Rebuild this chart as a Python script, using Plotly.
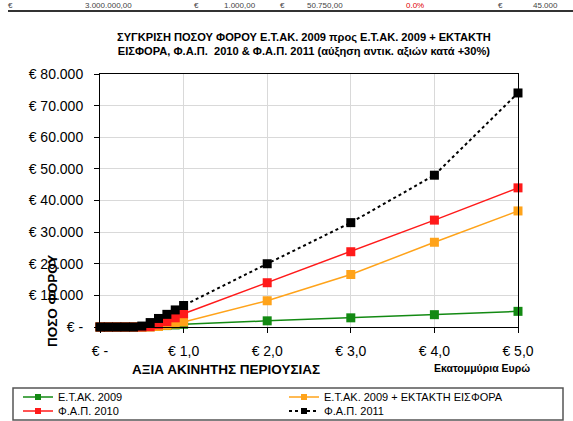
import plotly.graph_objects as go

# ---- data ----
x_values = [0, 0.1, 0.2, 0.3, 0.4, 0.5, 0.6, 0.7, 0.8, 0.9, 1.0, 2.0, 3.0, 4.0, 5.0]
etak_2009 = [0, 0, 0, 0, 0, 0, 100, 250, 450, 650, 850, 1950, 2900, 3900, 4950]
etak_ektakti = [0, 0, 0, 0, 0, 0, 0, 150, 500, 950, 1600, 8300, 16600, 26800, 36700]
fap_2010 = [0, 0, 0, 0, 0, 0, 100, 700, 1700, 2900, 4200, 14000, 23800, 33800, 44000]
fap_2011 = [0, 0, 0, 0, 0, 300, 1400, 2700, 4000, 5400, 6800, 20000, 33000, 48000, 74000]

series_names = ["Ε.Τ.ΑΚ. 2009", "Ε.Τ.ΑΚ. 2009 + ΕΚΤΑΚΤΗ ΕΙΣΦΟΡΑ", "Φ.Α.Π. 2010", "Φ.Α.Π. 2011"]
series_colors = ["#138a13", "#ffa31a", "#ff1a1a", "#000000"]

x_tickvals = [0, 1, 2, 3, 4, 5]
x_ticktext = ["€ -", "€ 1,0", "€ 2,0", "€ 3,0", "€ 4,0", "€ 5,0"]
y_tickvals = [0, 10000, 20000, 30000, 40000, 50000, 60000, 70000, 80000]
y_ticktext = ["€ -", "€ 10.000", "€ 20.000", "€ 30.000", "€ 40.000",
              "€ 50.000", "€ 60.000", "€ 70.000", "€ 80.000"]

title_text = ("ΣΥΓΚΡΙΣΗ ΠΟΣΟΥ ΦΟΡΟΥ Ε.Τ.ΑΚ. 2009 προς Ε.Τ.ΑΚ. 2009 + ΕΚΤΑΚΤΗ<br>"
              "ΕΙΣΦΟΡΑ, Φ.Α.Π.  2010 & Φ.Α.Π. 2011 (αύξηση αντικ. αξιών κατά +30%)")

top_row_texts = ["€", "3.000.000,00", "€", "1.000,00", "€", "50.750,00", "0.0%", "€", "45.000"]

FONT = "Liberation Sans, Arial, sans-serif"
W, H = 573, 421
L, R, T, B = 100, 55, 74, 94
PW, PH = W - L - R, H - T - B


def px(xp):
    return (xp - L) / PW


def py(yp):
    return (H - B - yp) / PH


fig = go.Figure()
all_series = [etak_2009, etak_ektakti, fap_2010, fap_2011]
legend_ids = ["legend", "legend2", "legend3", "legend4"]
for name, vals, col, lg in zip(series_names, all_series, series_colors, legend_ids):
    is_dot = lg == "legend4"
    line = dict(color=col, width=2 if is_dot else 1.5, dash="dot" if is_dot else "solid")
    # data trace
    fig.add_trace(go.Scatter(
        x=x_values, y=vals, name=name, mode="lines+markers", line=line,
        marker=dict(symbol="square", size=9, color=col),
        cliponaxis=False, showlegend=False, legendgroup=name,
    ))
    # legend entry (smaller marker as in the reference legend)
    fig.add_trace(go.Scatter(
        x=[None], y=[None], name=name, mode="lines+markers", line=line,
        marker=dict(symbol="square", size=6, color=col),
        legend=lg, showlegend=True, legendgroup=name, hoverinfo="skip",
    ))

legend_common = dict(font=dict(family=FONT, size=11, color="#000"),
                     bgcolor="rgba(0,0,0,0)", borderwidth=0,
                     xanchor="left", yanchor="middle", orientation="h",
                     itemclick=False)
fig.update_layout(
    legend=dict(x=px(18), y=py(397), **legend_common),
    legend2=dict(x=px(284), y=py(397), **legend_common),
    legend3=dict(x=px(18), y=py(411), **legend_common),
    legend4=dict(x=px(284), y=py(411), **legend_common),
)

fig.update_xaxes(
    range=[0, 5], tickvals=x_tickvals, ticktext=x_ticktext,
    showgrid=True, gridcolor="#d9d9d9", gridwidth=1,
    showline=True, linecolor="#000", linewidth=1, mirror=True,
    ticks="outside", ticklen=5, tickcolor="#000", ticklabelstandoff=6,
    tickfont=dict(family=FONT, size=14, color="#000"), zeroline=False,
)
fig.update_yaxes(
    range=[0, 80000], tickvals=y_tickvals, ticktext=y_ticktext,
    showgrid=True, gridcolor="#d9d9d9", gridwidth=1,
    showline=True, linecolor="#000", linewidth=1, mirror=True,
    ticks="outside", ticklen=5, tickcolor="#000", ticklabelstandoff=8,
    tickfont=dict(family=FONT, size=14, color="#000"), zeroline=False,
)

annotations = [
    dict(text="<b>" + title_text + "</b>", x=px(304), y=py(44), xref="paper", yref="paper",
         showarrow=False, xanchor="center", yanchor="middle", align="center",
         font=dict(family=FONT, size=11.1, color="#000")),
    dict(text="<b>ΑΞΙΑ ΑΚΙΝΗΤΗΣ ΠΕΡΙΟΥΣΙΑΣ</b>", x=px(226), y=py(369), xref="paper", yref="paper",
         showarrow=False, xanchor="center", yanchor="middle",
         font=dict(family=FONT, size=13.5, color="#000")),
    dict(text="<b>Εκατομμύρια Ευρώ</b>", x=px(482), y=py(368), xref="paper", yref="paper",
         showarrow=False, xanchor="center", yanchor="middle",
         font=dict(family=FONT, size=10.5, color="#000")),
    dict(text="<b>ΠΟΣΟ ΦΟΡΟΥ</b>", x=px(52), y=py(301), xref="paper", yref="paper",
         showarrow=False, xanchor="center", yanchor="middle", textangle=-90,
         font=dict(family=FONT, size=13.5, color="#000")),
]
# row of a table above the chart (only its lower part is visible in the reference)
top_row_x = [10, 108, 196, 240, 282, 325, 415, 500, 545]
top_row_col = ["#444", "#444", "#444", "#444", "#444", "#444", "#e00000", "#444", "#444"]
for txt, xx, col in zip(top_row_texts, top_row_x, top_row_col):
    annotations.append(dict(text=txt, x=px(xx), y=py(5), xref="paper", yref="paper",
                            showarrow=False, xanchor="center", yanchor="middle",
                            font=dict(family=FONT, size=8, color=col)))

shapes = [
    dict(type="line", xref="paper", yref="paper", x0=px(8), x1=px(573), y0=py(11), y1=py(11),
         line=dict(color="#333", width=2)),
    dict(type="rect", xref="paper", yref="paper", x0=px(13), x1=px(563), y0=py(388), y1=py(420),
         line=dict(color="#555", width=1.5), fillcolor="rgba(0,0,0,0)"),
]

fig.update_layout(
    width=W, height=H, margin=dict(l=L, r=R, t=T, b=B, autoexpand=False),
    paper_bgcolor="#ffffff", plot_bgcolor="#ffffff",
    annotations=annotations, shapes=shapes,
    font=dict(family=FONT, color="#000"),
)

fig.write_html("out.html")
